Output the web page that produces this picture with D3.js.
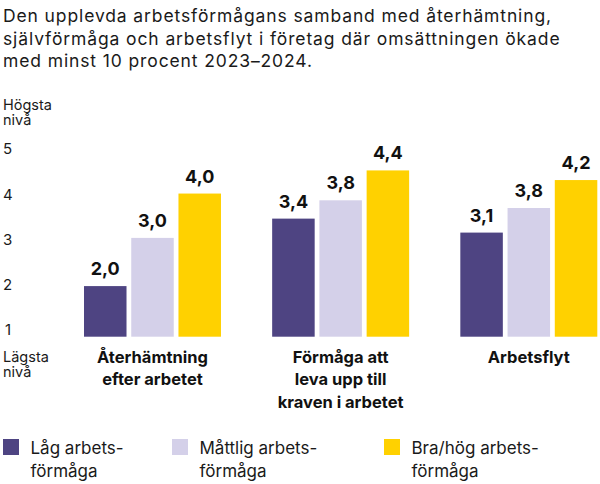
<!DOCTYPE html>
<html>
<head>
<meta charset="utf-8">
<script src="https://cdn.jsdelivr.net/npm/d3@7"></script>
<style>
  html, body { margin: 0; padding: 0; background: #fff; }
  svg { display: block; font-family: Inter, "Noto Sans", sans-serif; }
</style>
</head>
<body>
<svg id="chart" width="600" height="484"></svg>
<script>
const titleLines = [
  "Den upplevda arbetsförmågans samband med återhämtning,",
  "självförmåga och arbetsflyt i företag där omsättningen ökade",
  "med minst 10 procent 2023–2024."
];
const categories = [
  ["Återhämtning", "efter arbetet"],
  ["Förmåga att", "leva upp till", "kraven i arbetet"],
  ["Arbetsflyt"]
];
const seriesNames = [
  ["Låg arbets-", "förmåga"],
  ["Måttlig arbets-", "förmåga"],
  ["Bra/hög arbets-", "förmåga"]
];
const seriesColors = ["#4e4482", "#d4d0e9", "#ffd100"];
const lowValues  = [2.0, 3.4, 3.11];
const midValues  = [3.0, 3.78, 3.62];
const highValues = [3.92, 4.4, 4.2];
const lowLabels  = ["2,0", "3,4", "3,1"];
const midLabels  = ["3,0", "3,8", "3,8"];
const highLabels = ["4,0", "4,4", "4,2"];
const yTicks = [1, 2, 3, 4, 5];
const yTopLabel = ["Högsta", "nivå"];
const yBottomLabel = ["Lägsta", "nivå"];

const seriesValues = [lowValues, midValues, highValues];
const seriesLabels = [lowLabels, midLabels, highLabels];

const svg = d3.select("#chart");

// Title (letter-spacing tuned so first line spans the reference width)
const title = svg.append("g").attr("font-size", 17.5).attr("fill", "#1a1a1a");
const tl = title.selectAll("text").data(titleLines).join("text")
  .attr("x", 3).attr("y", (d, i) => 22 + i * 22.6)
  .text(d => d);
const w0 = tl.nodes()[0].getComputedTextLength();
const ls = Math.max(-1, Math.min(1.2, (549 - w0) / titleLines[0].length));
title.attr("letter-spacing", ls);

const x0 = d3.scaleBand().domain(d3.range(categories.length))
  .range([84, 597.3]).paddingInner(0.272).paddingOuter(0);
const x1 = d3.scaleBand().domain(d3.range(seriesValues.length))
  .range([0, x0.bandwidth()]).paddingInner(0.1);
const y = d3.scaleLinear().domain([0.95, 5]).range([336.7, 141.5]);
const yLab = d3.scaleLinear().domain([1, 5]).range([330, 149]);

// y tick labels
svg.append("g").selectAll("text").data(yTicks).join("text")
  .attr("x", d => d === 1 ? 5 : 3).attr("y", d => yLab(d))
  .attr("dy", "0.36em")
  .attr("font-size", 15).attr("fill", "#1a1a1a")
  .text(d => d);

svg.append("text").attr("font-size", 14.5).attr("fill", "#1a1a1a")
  .selectAll("tspan").data(yTopLabel).join("tspan")
  .attr("x", 3).attr("y", (d, i) => 110 + i * 15).text(d => d);
svg.append("text").attr("font-size", 14.5).attr("fill", "#1a1a1a")
  .selectAll("tspan").data(yBottomLabel).join("tspan")
  .attr("x", 3).attr("y", (d, i) => 361.5 + i * 15.5).text(d => d);

// bars
const groups = svg.append("g").selectAll("g").data(categories).join("g")
  .attr("transform", (d, i) => `translate(${x0(i)},0)`);

groups.each(function(cat, ci) {
  const g = d3.select(this);
  seriesValues.forEach((vals, si) => {
    g.append("rect")
      .attr("x", x1(si)).attr("width", x1.bandwidth())
      .attr("y", y(vals[ci])).attr("height", y(y.domain()[0]) - y(vals[ci]))
      .attr("fill", seriesColors[si]);
    g.append("text")
      .attr("x", x1(si) + x1.bandwidth() / 2).attr("y", y(vals[ci]) - 11)
      .attr("text-anchor", "middle").attr("font-weight", 700)
      .attr("font-size", 18).attr("fill", "#111")
      .text(seriesLabels[si][ci]);
  });
  g.append("text").attr("text-anchor", "middle").attr("font-weight", 700)
    .attr("font-size", 16.5).attr("fill", "#111")
    .selectAll("tspan").data(cat).join("tspan")
    .attr("x", x0.bandwidth() / 2).attr("y", (d, i) => 363 + i * 22.4)
    .text(d => d);
});

// legend
const legendX = [3, 172, 384];
const legend = svg.append("g").selectAll("g").data(seriesNames).join("g")
  .attr("transform", (d, i) => `translate(${legendX[i]},0)`);
legend.append("rect").attr("x", 0).attr("y", 439).attr("width", 16).attr("height", 16)
  .attr("fill", (d, i) => seriesColors[i]);
legend.append("text").attr("font-size", 17).attr("fill", "#1a1a1a")
  .selectAll("tspan").data(d => d).join("tspan")
  .attr("x", 27.5).attr("y", (d, i) => 454 + i * 22.5).text(d => d);
</script>
</body>
</html>
